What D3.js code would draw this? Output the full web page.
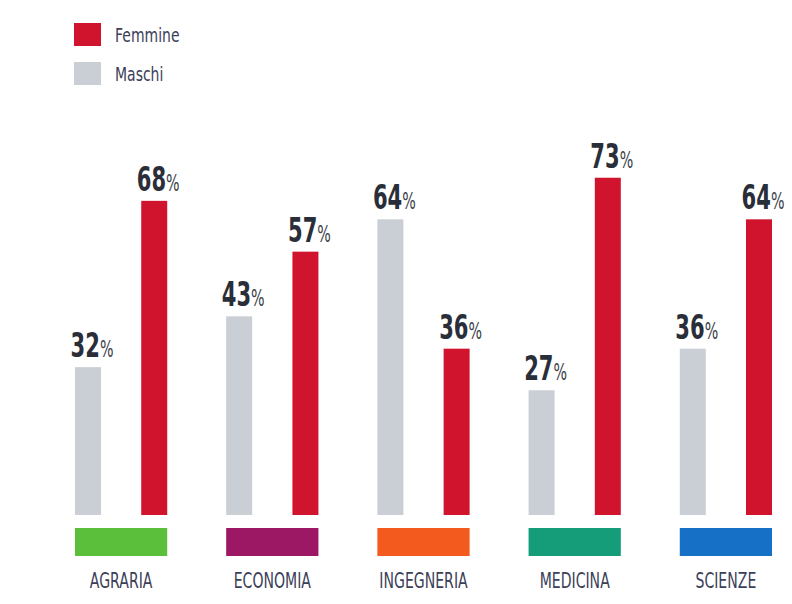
<!DOCTYPE html>
<html>
<head>
<meta charset="utf-8">
<script src="https://cdn.jsdelivr.net/npm/d3@7"></script>
<style>
  html, body { margin: 0; padding: 0; background: #ffffff; }
  svg { display: block; }
</style>
</head>
<body>
<svg id="chart" width="792" height="604"></svg>
<script>
const categories = ["AGRARIA", "ECONOMIA", "INGEGNERIA", "MEDICINA", "SCIENZE"];
const maschi = [32, 43, 64, 27, 36];
const femmine = [68, 57, 36, 73, 64];
const categoryColors = ["#5cbf3c", "#9c1764", "#f25a1e", "#159c79", "#1670c6"];
const seriesNames = ["Femmine", "Maschi"];
const seriesColors = ["#d0142e", "#c9cfd5"];

const svg = d3.select("#chart");
const font = "'DejaVu Sans', sans-serif";

const x = d3.scaleBand().domain(categories).range([75, 772]).paddingInner(0.39).paddingOuter(0);
const y = d3.scaleLinear().domain([0, 100]).range([515, 53]);
const barW = 26;

// legend
const legend = svg.append("g");
seriesNames.forEach((name, i) => {
  const gy = 23 + i * 39;
  legend.append("rect").attr("x", 74).attr("y", gy).attr("width", 27).attr("height", 23)
    .attr("fill", seriesColors[i]);
  legend.append("g").attr("transform", `translate(115,${gy + 19}) scale(0.7,1)`)
    .append("text").text(name)
    .attr("font-family", font).attr("font-size", 20).attr("fill", "#3b4058");
});

const groups = svg.append("g").selectAll("g").data(categories).join("g")
  .attr("transform", d => `translate(${x(d)},0)`);

function drawBars(vals, color, offset) {
  groups.append("rect")
    .attr("x", offset)
    .attr("y", (d, i) => y(vals[i]))
    .attr("width", barW)
    .attr("height", (d, i) => y(0) - y(vals[i]))
    .attr("fill", color);
  const t = groups.append("g")
    .attr("transform", (d, i) => `translate(${offset + barW / 2 + 4},${y(vals[i]) - 10}) scale(0.62,1)`)
    .append("text")
    .attr("text-anchor", "middle")
    .attr("font-family", font)
    .attr("fill", "#2a2e38");
  t.append("tspan").attr("font-size", 34).attr("font-weight", "bold").text((d, i) => vals[i]);
  t.append("tspan").attr("font-size", 23).attr("fill", "#3a3e48").text("%");
}
drawBars(maschi, seriesColors[1], 0);
drawBars(femmine, seriesColors[0], x.bandwidth() - barW);

// category colour strips
groups.append("rect")
  .attr("x", 0).attr("y", 528).attr("width", x.bandwidth()).attr("height", 28)
  .attr("fill", (d, i) => categoryColors[i]);

groups.append("g")
  .attr("transform", `translate(${x.bandwidth() / 2},588) scale(0.64,1)`)
  .append("text")
  .attr("text-anchor", "middle")
  .attr("font-family", font).attr("font-size", 22)
  .attr("fill", "#3b4058")
  .text(d => d);
</script>
</body>
</html>
